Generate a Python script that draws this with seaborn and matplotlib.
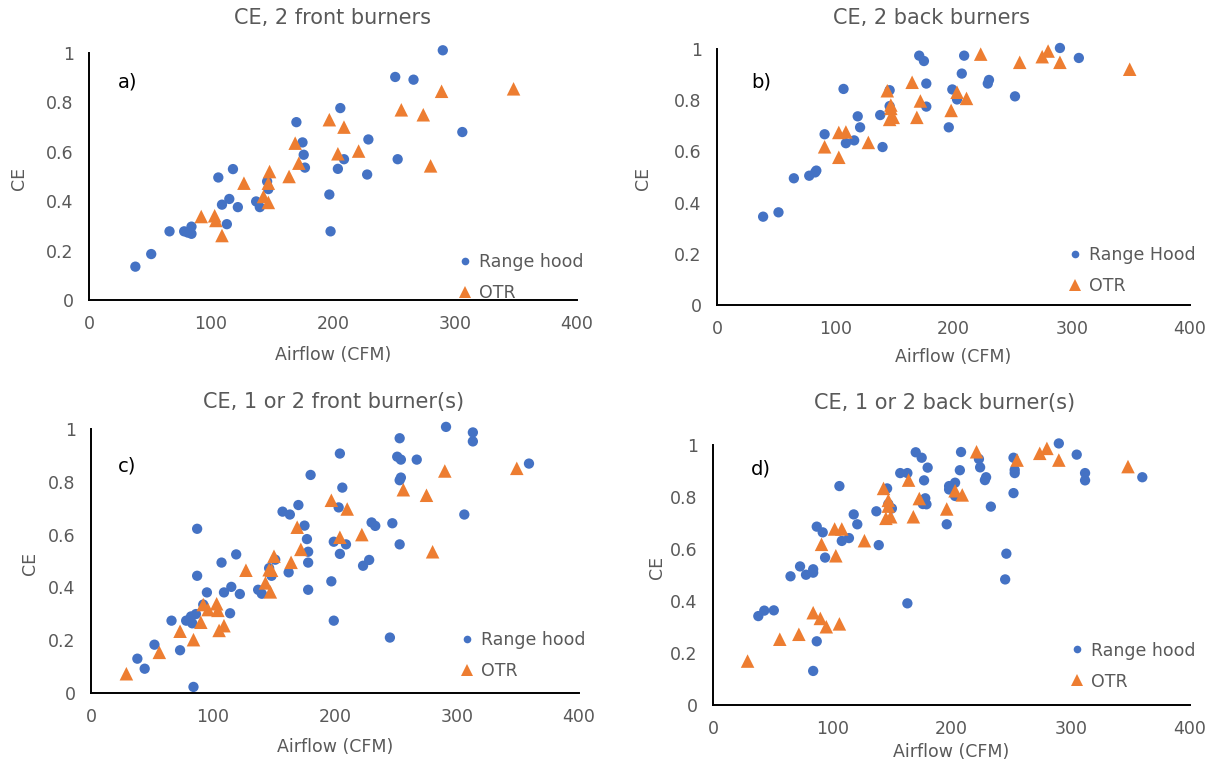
import pandas as pd
import seaborn as sns
import matplotlib.pyplot as plt

# panel a) CE, 2 front burners
a_hood_x = [38, 51, 66, 78, 81, 84, 84, 106, 109, 113, 115, 118, 122, 137, 140, 146, 147,
            170, 175, 176, 177, 197, 198, 204, 206, 209, 228, 229, 251, 253, 266, 290, 306]
a_hood_y = [0.135, 0.186, 0.278, 0.278, 0.273, 0.297, 0.268, 0.496, 0.386, 0.307, 0.409, 0.530, 0.376,
            0.399, 0.376, 0.480, 0.449, 0.720, 0.638, 0.588, 0.536, 0.427, 0.278, 0.531, 0.777, 0.570,
            0.508, 0.650, 0.903, 0.570, 0.892, 1.011, 0.680]
a_otr_x = [92, 103, 104, 109, 127, 143, 147, 147, 148, 164, 169, 172, 197, 204, 209, 221, 256,
           274, 280, 289, 348]
a_otr_y = [0.338, 0.341, 0.322, 0.261, 0.473, 0.419, 0.395, 0.473, 0.520, 0.500, 0.635, 0.554, 0.730,
           0.592, 0.700, 0.603, 0.770, 0.750, 0.543, 0.845, 0.855]

# panel b) CE, 2 back burners
b_hood_x = [39, 52, 65, 78, 83, 84, 91, 107, 109, 116, 119, 121, 138, 140, 146, 146, 171, 175,
            177, 177, 196, 199, 203, 207, 209, 229, 230, 252, 290, 306]
b_hood_y = [0.345, 0.362, 0.495, 0.505, 0.518, 0.525, 0.667, 0.844, 0.632, 0.643, 0.737, 0.694, 0.742,
            0.617, 0.839, 0.777, 0.974, 0.953, 0.865, 0.775, 0.694, 0.842, 0.803, 0.904, 0.974, 0.865,
            0.879, 0.815, 1.004, 0.965]
b_otr_x = [91, 103, 103, 109, 128, 144, 147, 147, 146, 149, 165, 169, 172, 198, 203, 211, 223,
           256, 275, 280, 290, 349]
b_otr_y = [0.618, 0.674, 0.577, 0.676, 0.635, 0.837, 0.781, 0.768, 0.725, 0.733, 0.870, 0.733, 0.797,
           0.760, 0.831, 0.807, 0.980, 0.948, 0.970, 0.992, 0.948, 0.921]

# panel c) CE, 1 or 2 front burner(s)
c_hood_x = [38, 44, 52, 66, 73, 78, 82, 83, 86, 87, 87, 84, 92, 95, 107, 109, 114, 115, 119, 122,
            137, 140, 146, 148, 151, 157, 162, 163, 170, 175, 177, 178, 178, 178, 180, 197, 199,
            199, 203, 204, 204, 206, 209, 223, 228, 230, 233, 245, 247, 251, 253, 253, 253, 254,
            254, 267, 291, 306, 313, 313, 359]
c_hood_y = [0.130, 0.092, 0.183, 0.274, 0.162, 0.274, 0.290, 0.264, 0.299, 0.622, 0.444, 0.023, 0.335,
            0.381, 0.494, 0.381, 0.302, 0.402, 0.525, 0.375, 0.391, 0.376, 0.473, 0.444, 0.505, 0.687,
            0.457, 0.676, 0.712, 0.634, 0.583, 0.535, 0.494, 0.391, 0.826, 0.423, 0.274, 0.573, 0.703,
            0.527, 0.907, 0.778, 0.563, 0.482, 0.504, 0.646, 0.633, 0.210, 0.643, 0.895, 0.965, 0.563,
            0.806, 0.816, 0.884, 0.884, 1.008, 0.676, 0.987, 0.953, 0.869]
c_otr_x = [29, 56, 73, 84, 90, 92, 96, 103, 104, 105, 109, 127, 143, 146, 147, 148, 150, 164, 169,
           172, 197, 204, 210, 222, 256, 275, 280, 290, 349]
c_otr_y = [0.073, 0.154, 0.234, 0.202, 0.268, 0.335, 0.316, 0.338, 0.313, 0.237, 0.255, 0.465, 0.417,
           0.467, 0.383, 0.465, 0.518, 0.495, 0.628, 0.544, 0.730, 0.590, 0.697, 0.600, 0.770, 0.749,
           0.535, 0.841, 0.851]

# panel d) CE, 1 or 2 back burner(s)
d_hood_x = [38, 43, 51, 65, 73, 78, 84, 84, 84, 87, 87, 92, 94, 106, 108, 114, 118, 121, 137, 139,
            146, 147, 150, 157, 163, 163, 170, 175, 176, 177, 178, 179, 180, 196, 198, 198, 203,
            203, 207, 208, 223, 224, 228, 229, 233, 245, 246, 252, 252, 253, 253, 290, 305, 312,
            312, 360]
d_hood_y = [0.342, 0.363, 0.364, 0.495, 0.533, 0.501, 0.522, 0.509, 0.131, 0.245, 0.686, 0.664, 0.567,
            0.842, 0.631, 0.642, 0.733, 0.695, 0.745, 0.615, 0.833, 0.773, 0.756, 0.892, 0.892, 0.391,
            0.972, 0.951, 0.773, 0.864, 0.795, 0.772, 0.913, 0.695, 0.842, 0.829, 0.804, 0.855, 0.903,
            0.973, 0.946, 0.914, 0.865, 0.876, 0.763, 0.483, 0.582, 0.815, 0.951, 0.892, 0.904, 1.006,
            0.963, 0.892, 0.864, 0.876]
d_otr_x = [29, 56, 72, 84, 90, 95, 106, 91, 103, 102, 108, 127, 143, 147, 147, 145, 149, 164, 168,
           173, 196, 203, 209, 221, 255, 274, 280, 290, 348]
d_otr_y = [0.169, 0.253, 0.272, 0.355, 0.333, 0.301, 0.312, 0.618, 0.574, 0.677, 0.677, 0.632, 0.833,
           0.765, 0.787, 0.718, 0.724, 0.865, 0.724, 0.794, 0.754, 0.824, 0.808, 0.974, 0.942, 0.968,
           0.987, 0.942, 0.917]

titles = ['CE, 2 front burners', 'CE, 2 back burners',
          'CE, 1 or 2 front burner(s)', 'CE, 1 or 2 back burner(s)']
tags = ['a)', 'b)', 'c)', 'd)']
hood_names = ['Range hood', 'Range Hood', 'Range hood', 'Range hood']

BLUE = '#4472C4'
ORANGE = '#ED7D31'
GREY = '#595959'

W, H = 1213, 768
# layout in pixels (x from left, y from top)
boxes = [(89, 53, 577, 300), (717, 49, 1190, 305),
         (91, 429, 579, 693), (713, 445, 1190, 705)]
title_pos = [(332, 18), (932, 18), (334, 402), (945, 403)]
tag_pos = [(118, 82), (751, 82), (118, 466), (751, 469)]
ylabel_pos = [(19, 178), (643, 178), (30, 563), (657, 567)]
xlabel_y = [355, 357, 747, 752]
legend_shift = [0, 12, 16, 17]


def make_df(hx, hy, ox, oy, hood_name):
    df1 = pd.DataFrame({'Airflow': hx, 'CE': hy, 'kind': hood_name})
    df2 = pd.DataFrame({'Airflow': ox, 'CE': oy, 'kind': 'OTR'})
    return pd.concat([df1, df2], ignore_index=True)


def draw_panel(fig, ax, df, i):
    hood_name = hood_names[i]
    sns.scatterplot(data=df, x='Airflow', y='CE', hue='kind', style='kind',
                    palette={hood_name: BLUE, 'OTR': ORANGE},
                    markers={hood_name: 'o', 'OTR': '^'},
                    size='kind', sizes={hood_name: 55, 'OTR': 95},
                    linewidth=0, ax=ax, clip_on=False, legend=True)
    ax.set_xlim(0, 400)
    ax.set_ylim(0, 1)
    ax.set_xticks([0, 100, 200, 300, 400])
    ax.set_yticks([0, 0.2, 0.4, 0.6, 0.8, 1.0])
    ax.set_yticklabels(['0', '0.2', '0.4', '0.6', '0.8', '1'])
    for s in ['top', 'right']:
        ax.spines[s].set_visible(False)
    for s in ['left', 'bottom']:
        ax.spines[s].set_color('black')
        ax.spines[s].set_linewidth(1.4)
    ax.tick_params(axis='both', direction='out', length=5, width=1.4, color='black',
                   labelcolor=GREY, labelsize=12.5, pad=6)

    # axis labels placed at the reference pixel spots
    l, t, r, b = boxes[i]
    ax.set_xlabel('Airflow (CFM)', color=GREY, fontsize=12.5, va='center')
    ax.xaxis.set_label_coords(0.5, (b - xlabel_y[i]) / (b - t))
    ax.set_ylabel('CE', color=GREY, fontsize=12.5, va='center')
    yx, yy = ylabel_pos[i]
    ax.yaxis.set_label_coords((yx - l) / (r - l), (b - yy) / (b - t))

    fig.text(tag_pos[i][0] / W, 1 - tag_pos[i][1] / H, tags[i], ha='left', va='center',
             fontsize=14, color='black')
    fig.text(title_pos[i][0] / W, 1 - title_pos[i][1] / H, titles[i], ha='center',
             va='center', fontsize=15, color=GREY)

    handles, labels = ax.get_legend_handles_labels()
    for h, lab in zip(handles, labels):
        h.set_markersize(5.5 if lab != 'OTR' else 8)
    ax.legend(handles, labels, loc='lower right',
              bbox_to_anchor=(1.045, -0.07 + legend_shift[i] / (b - t)),
              frameon=False, fontsize=12.5, labelcolor=GREY, handletextpad=-0.2,
              labelspacing=0.75)


def main():
    sns.set_theme(style='white')
    plt.rcParams['font.family'] = ['DejaVu Sans']
    fig = plt.figure(figsize=(W / 100, H / 100), dpi=100)
    fig.patch.set_facecolor('white')

    dfs = [make_df(a_hood_x, a_hood_y, a_otr_x, a_otr_y, hood_names[0]),
           make_df(b_hood_x, b_hood_y, b_otr_x, b_otr_y, hood_names[1]),
           make_df(c_hood_x, c_hood_y, c_otr_x, c_otr_y, hood_names[2]),
           make_df(d_hood_x, d_hood_y, d_otr_x, d_otr_y, hood_names[3])]

    for i, (l, t, r, b) in enumerate(boxes):
        ax = fig.add_axes([l / W, (H - b) / H, (r - l) / W, (b - t) / H])
        draw_panel(fig, ax, dfs[i], i)

    fig.savefig('out.png', dpi=100)
    plt.close(fig)


if __name__ == '__main__':
    main()
